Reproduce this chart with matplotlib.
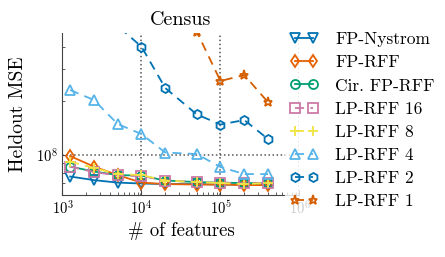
import numpy as np
import matplotlib
matplotlib.use("Agg")
import matplotlib.pyplot as plt
from matplotlib.ticker import LogLocator, NullFormatter

plt.rcParams['font.family'] = 'serif'
plt.rcParams['font.serif'] = ['cmr10']
plt.rcParams['mathtext.fontset'] = 'cm'
plt.rcParams['axes.formatter.use_mathtext'] = True

# number of features
n_feat = [1250, 2500, 5000, 10000, 20000, 50000, 100000, 200000, 400000]

# heldout MSE (units of 1e7)
fp_nystrom = [7.60, 7.26, 7.03, 6.95, 6.90, 6.90, 6.86, 6.86, 6.86]
fp_rff = [9.87, 8.63, 7.74, 7.03, 6.90, 6.86, 6.86, 6.81, 6.81]
cir_fp_rff = [8.63, 8.10, 7.74, 7.69, 7.22, 7.08, 7.03, 6.99, 6.99]
lp_rff_16 = [8.63, 8.05, 7.70, 7.65, 7.22, 7.08, 6.99, 6.99, 6.99]
lp_rff_8 = [9.20, 8.47, 7.84, 7.74, 7.22, 7.08, 6.99, 6.90, 6.99]
lp_rff_4 = [22.97, 20.21, 14.87, 13.08, 10.33, 10.13, 8.58, 7.84, 7.84]
lp_rff_2 = [495.0, 156.4, 52.1, 39.97, 23.56, 16.83, 14.77, 15.65, 12.27]
lp_rff_1 = [3000.0, 1600.0, 800.0, 400.0, 200.0, 48.5, 25.76, 27.83, 19.63]

series = [
    ('FP-Nystrom', fp_nystrom, '#0072B2', 'v', '-'),
    ('FP-RFF', fp_rff, '#E66100', 'd', '-'),
    ('Cir. FP-RFF', cir_fp_rff, '#009E73', 'o', '-'),
    ('LP-RFF 16', lp_rff_16, '#CC79A7', 's', '--'),
    ('LP-RFF 8', lp_rff_8, '#F0E442', '+', '--'),
    ('LP-RFF 4', lp_rff_4, '#56B4E9', '^', '--'),
    ('LP-RFF 2', lp_rff_2, '#0072B2', 'h', '--'),
    ('LP-RFF 1', lp_rff_1, '#D55E00', '*', '--'),
]

fig = plt.figure(figsize=(4.45, 2.57), dpi=100)
ax = fig.add_axes([0.1404, 0.2412, 0.5326, 0.6304])

for name, vals, col, mk, ls in series:
    kw = dict(color=col, marker=mk, markersize=6.5, markerfacecolor='none',
              markeredgewidth=1.3, linewidth=1.3, label=name)
    if ls == '--':
        kw['dashes'] = (5, 3.5)
    ax.plot(n_feat, np.array(vals) * 1e7, **kw)

ax.set_xscale('log')
ax.set_yscale('log')
ax.set_xlim(1e3, 1e6)
ax.set_ylim(6e7, 4.76e8)
ax.yaxis.set_minor_formatter(NullFormatter())
ax.xaxis.set_minor_locator(LogLocator(base=10, subs=np.arange(2, 10)))
ax.xaxis.set_minor_formatter(NullFormatter())

ax.grid(True, which='major', linestyle=':', color='#555555', linewidth=1.1)
for s in ['top', 'right']:
    ax.spines[s].set_visible(False)
for s in ['left', 'bottom']:
    ax.spines[s].set_color('#444444')
ax.tick_params(which='both', direction='in', colors='#444444', labelcolor='black', labelsize=10.5)
ax.tick_params(which='major', length=3.5)
ax.tick_params(which='minor', length=2)

ax.set_title('Census', fontsize=14.5, pad=6)
ax.set_xlabel('# of features', fontsize=13.5, labelpad=3)
ax.set_ylabel('Heldout MSE', fontsize=14, labelpad=6)

leg = ax.legend(loc='upper left', bbox_to_anchor=(0.640, 0.896), bbox_transform=fig.transFigure,
                fontsize=12.5, frameon=True, framealpha=0.8, edgecolor='none', fancybox=False,
                numpoints=2, handlelength=1.6, handletextpad=1.0, labelspacing=0.45, borderpad=0.3,
                borderaxespad=0)

fig.savefig('out.png', dpi=100)
